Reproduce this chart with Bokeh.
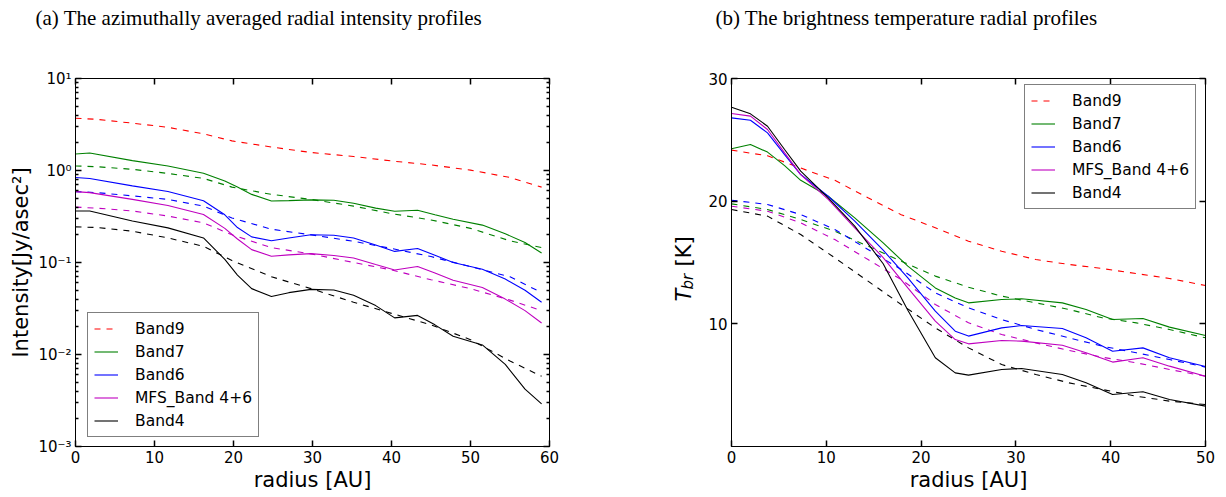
from math import pi
from bokeh.plotting import figure
from bokeh.models import FixedTicker, LinearAxis, LogAxis, Legend, LegendItem, Label, Range1d, Title
from bokeh.layouts import row
from bokeh.embed import file_html
from bokeh.resources import INLINE

# ---------------- panel (a) data : intensity [Jy/asec^2] vs radius [AU]
R_A_SOLID = [0, 1.8, 7.2, 11.7, 16.2, 18.9, 20.5, 22.3, 24.8, 27, 29.8, 32.7, 35.2, 38, 40.4, 43.3, 45.5, 47.8, 51.5, 54.4, 56.9, 59]
A_BAND7 = [1.51, 1.55, 1.28, 1.12, 0.935, 0.77, 0.66, 0.55, 0.466, 0.47, 0.48, 0.475, 0.44, 0.39, 0.36, 0.37, 0.33, 0.295, 0.255, 0.205, 0.165, 0.127]
A_BAND6 = [0.84, 0.82, 0.68, 0.59, 0.47, 0.33, 0.24, 0.19, 0.172, 0.185, 0.2, 0.198, 0.185, 0.155, 0.132, 0.142, 0.12, 0.1, 0.0845, 0.066, 0.05, 0.037]
A_MFS = [0.59, 0.575, 0.485, 0.417, 0.333, 0.235, 0.18, 0.138, 0.117, 0.121, 0.125, 0.119, 0.112, 0.095, 0.083, 0.0906, 0.077, 0.064, 0.0535, 0.04, 0.03, 0.022]
A_BAND4 = [0.363, 0.363, 0.282, 0.238, 0.185, 0.108, 0.073, 0.052, 0.0427, 0.047, 0.051, 0.0503, 0.044, 0.034, 0.025, 0.0266, 0.021, 0.0158, 0.0127, 0.0078, 0.0042, 0.0029]

R_A_DASH = [0, 2.7, 7.2, 11.7, 16.2, 19.8, 24.8, 29.8, 35.2, 40, 45, 50, 55, 59]
A_BAND9_D = [3.7, 3.6, 3.27, 2.95, 2.5, 2.1, 1.8, 1.57, 1.42, 1.27, 1.15, 1.01, 0.84, 0.66]
A_BAND7_D = [1.12, 1.1, 1.03, 0.93, 0.82, 0.66, 0.55, 0.485, 0.41, 0.34, 0.29, 0.235, 0.172, 0.145]
A_BAND6_D = [0.59, 0.575, 0.53, 0.485, 0.41, 0.305, 0.23, 0.2, 0.17, 0.142, 0.116, 0.09, 0.07, 0.047]
A_MFS_D = [0.4, 0.39, 0.363, 0.32, 0.27, 0.2, 0.145, 0.124, 0.1, 0.083, 0.065, 0.052, 0.039, 0.03]
A_BAND4_D = [0.244, 0.24, 0.219, 0.185, 0.15, 0.105, 0.07, 0.052, 0.037, 0.028, 0.021, 0.0145, 0.0085, 0.0058]

# ---------------- panel (b) data : brightness temperature [K] vs radius [AU]
R_B_SOLID = [0, 2, 3.8, 5.6, 7.3, 10.2, 13, 16, 18.6, 21.5, 23.6, 25, 28.5, 30.6, 34.9, 37.4, 40.2, 43.4, 46.2, 50]
B_BAND7 = [24.27, 24.62, 24.0, 22.9, 21.7, 20.4, 18.64, 16.6, 14.7, 12.93, 12.1, 11.71, 11.98, 12.04, 11.71, 11.17, 10.35, 10.43, 9.73, 9.05]
B_BAND6 = [26.79, 26.6, 25.57, 23.8, 22.17, 20.4, 18.37, 16.0, 13.75, 11.03, 9.4, 9.0, 9.67, 9.86, 9.62, 8.86, 7.77, 8.04, 7.23, 6.52]
B_MFS = [27.15, 26.93, 25.84, 23.94, 22.17, 20.14, 17.83, 15.4, 12.93, 10.22, 8.72, 8.37, 8.64, 8.59, 8.26, 7.64, 6.88, 7.23, 6.55, 5.73]
B_BAND4 = [27.66, 27.12, 26.11, 24.21, 22.45, 20.27, 17.96, 14.9, 11.1, 7.23, 6.0, 5.82, 6.28, 6.36, 5.87, 5.19, 4.24, 4.46, 3.83, 3.29]

R_B_DASH = [0, 3.8, 7.3, 10.9, 14.4, 17.9, 21.5, 25, 28.5, 32.1, 35.6, 39.1, 42.7, 46.2, 50]
B_BAND9_D = [24.16, 23.7, 22.7, 21.7, 20.27, 18.9, 17.83, 16.74, 15.92, 15.24, 14.84, 14.51, 14.1, 13.7, 13.12]
B_BAND7_D = [19.78, 19.32, 18.5, 17.55, 16.33, 15.11, 13.89, 12.99, 12.26, 11.71, 11.17, 10.49, 10.08, 9.54, 8.86]
B_BAND6_D = [20.08, 19.73, 18.91, 17.69, 16.06, 14.43, 12.53, 11.3, 10.35, 9.54, 8.86, 8.18, 7.64, 7.09, 6.47]
B_MFS_D = [19.59, 19.18, 18.23, 16.87, 15.24, 13.61, 11.58, 10.08, 9.13, 8.45, 7.83, 7.28, 6.82, 6.28, 5.73]
B_BAND4_D = [19.32, 18.78, 17.28, 15.38, 13.48, 11.58, 9.67, 8.04, 6.68, 5.87, 5.19, 4.65, 4.1, 3.7, 3.42]

LEGEND_LABELS = ["Band9", "Band7", "Band6", "MFS_Band 4+6", "Band4"]

X_TICKS_A = [0, 10, 20, 30, 40, 50, 60]
Y_TICKS_A = [1e-3, 1e-2, 1e-1, 1, 10]
Y_TICK_LABELS_A = ["10\u207b\u00b3", "10\u207b\u00b2", "10\u207b\u00b9", "10\u2070", "10\u00b9"]
X_TICKS_B = [0, 10, 20, 30, 40, 50]
Y_TICKS_B = [10, 20, 30]

TITLE_A = "(a) The azimuthally averaged radial intensity profiles"
TITLE_B = "(b) The brightness temperature radial profiles"

RED, GREEN, BLUE, MAG, BLACK = "#ff0000", "#008000", "#0000ff", "#bf00bf", "#000000"
SANS = "DejaVu Sans"
HEIGHT = 495


def make_fig(width, xr, yr, ytype, bl, br):
    p = figure(width=width, height=HEIGHT, x_range=xr, y_range=yr, y_axis_type=ytype,
               output_backend="svg", toolbar_location=None,
               min_border_left=bl, min_border_right=br, min_border_top=78, min_border_bottom=49)
    p.grid.visible = False
    p.outline_line_color = "black"
    p.outline_line_width = 1
    p.background_fill_color = "white"
    p.border_fill_color = "white"
    return p


def style_axis(ax, ticker, overrides):
    ax.ticker = ticker
    ax.major_label_overrides = overrides
    ax.major_tick_in = 6
    ax.major_tick_out = 0
    ax.minor_tick_in = 3
    ax.minor_tick_out = 0
    ax.major_tick_line_width = 1.5
    ax.minor_tick_line_width = 1.5
    ax.major_tick_line_color = "black"
    ax.minor_tick_line_color = "black"
    ax.axis_line_color = "black"
    ax.major_label_text_font = SANS
    ax.major_label_text_font_size = "15px"
    ax.major_label_text_color = "black"
    ax.major_label_standoff = 4
    ax.axis_label_text_font = SANS
    ax.axis_label_text_font_size = "21px"
    ax.axis_label_text_font_style = "normal"
    ax.axis_label_text_color = "black"
    ax.axis_label_standoff = 2


def set_title(p, text, offset):
    # spacer first (closest to the frame), then the visible title further out
    p.title.text = ""
    p.add_layout(Title(text=" ", text_font_size="1px", standoff=46), "above")
    p.add_layout(Title(text=text, align="left", offset=offset, standoff=0,
                       text_font="Liberation Serif", text_font_size="21px",
                       text_font_style="normal", text_color="black"), "above")


def add_legend(p, renderers, loc, pad):
    items = [LegendItem(label=l, renderers=[r]) for l, r in zip(LEGEND_LABELS, renderers)]
    lg = Legend(items=items, location=loc)
    lg.label_text_font = SANS
    lg.label_text_font_size = "15.5px"
    lg.label_text_color = "black"
    lg.glyph_width = 24
    lg.glyph_height = 19
    lg.label_height = 19
    lg.label_standoff = 17
    lg.spacing = 4
    lg.padding = pad
    lg.margin = 0
    lg.border_line_color = "black"
    lg.border_line_width = 1
    lg.background_fill_color = "white"
    lg.background_fill_alpha = 1
    p.add_layout(lg, "center")


def mirror_axis(ax, ticker, ticks):
    style_axis(ax, ticker, {t: "" for t in ticks})


# ================= panel (a)
pA = make_fig(610, (0, 60), (1e-3, 10), "log", 75, 61)
minor_a = [m * t for t in Y_TICKS_A[:-1] for m in range(2, 10)]
style_axis(pA.xaxis[0], FixedTicker(ticks=X_TICKS_A), {})
style_axis(pA.yaxis[0], FixedTicker(ticks=Y_TICKS_A, minor_ticks=minor_a), dict(zip(Y_TICKS_A, Y_TICK_LABELS_A)))
pA.xaxis[0].axis_label = "radius [AU]"
pA.yaxis[0].axis_label = "Intensity[Jy/asec\u00b2]"
topA = LinearAxis()
mirror_axis(topA, FixedTicker(ticks=X_TICKS_A), X_TICKS_A)
pA.add_layout(topA, "above")
rightA = LogAxis()
mirror_axis(rightA, FixedTicker(ticks=Y_TICKS_A, minor_ticks=minor_a), Y_TICKS_A)
pA.add_layout(rightA, "right")
set_title(pA, TITLE_A, -40)

dA = [pA.line(R_A_DASH, y, line_color=c, line_width=1.1, line_dash="6 6")
      for y, c in zip([A_BAND9_D, A_BAND7_D, A_BAND6_D, A_MFS_D, A_BAND4_D], [RED, GREEN, BLUE, MAG, BLACK])]
sA = [pA.line(R_A_SOLID, y, line_color=c, line_width=1.1)
      for y, c in zip([A_BAND7, A_BAND6, A_MFS, A_BAND4], [GREEN, BLUE, MAG, BLACK])]
add_legend(pA, [dA[0]] + sA, (12, 9), 6)

# ================= strip holding the y-axis label of panel (b): T_br [K]
# (its frame is aligned by the row with the frames of the two panels)
pL = figure(width=90, height=HEIGHT, x_range=Range1d(0, 1), y_range=Range1d(0, 1),
            x_axis_location=None, y_axis_location=None,
            output_backend="svg", toolbar_location=None, min_border=0)
pL.grid.visible = False
pL.outline_line_color = None
pL.background_fill_color = "white"
pL.border_fill_color = "white"
pL.add_layout(Label(x=73, y=145, x_units="screen", y_units="screen", text="T", angle=pi / 2,
                    text_font=SANS, text_font_style="italic", text_font_size="21px",
                    text_align="left", text_baseline="middle", text_color="black"))
pL.add_layout(Label(x=77, y=157, x_units="screen", y_units="screen", text="br", angle=pi / 2,
                    text_font=SANS, text_font_style="italic", text_font_size="15px",
                    text_align="left", text_baseline="middle", text_color="black"))
pL.add_layout(Label(x=73, y=180, x_units="screen", y_units="screen", text="[K]", angle=pi / 2,
                    text_font=SANS, text_font_size="21px",
                    text_align="left", text_baseline="middle", text_color="black"))

# ================= panel (b)
pB = make_fig(524, (0, 50), (0, 30), "linear", 31, 19)
style_axis(pB.xaxis[0], FixedTicker(ticks=X_TICKS_B), {})
style_axis(pB.yaxis[0], FixedTicker(ticks=Y_TICKS_B), {})
pB.xaxis[0].axis_label = "radius [AU]"
topB = LinearAxis()
mirror_axis(topB, FixedTicker(ticks=X_TICKS_B), X_TICKS_B)
pB.add_layout(topB, "above")
rightB = LinearAxis()
mirror_axis(rightB, FixedTicker(ticks=Y_TICKS_B), Y_TICKS_B)
pB.add_layout(rightB, "right")
set_title(pB, TITLE_B, -16)

dB = [pB.line(R_B_DASH, y, line_color=c, line_width=1.1, line_dash="6 6")
      for y, c in zip([B_BAND9_D, B_BAND7_D, B_BAND6_D, B_MFS_D, B_BAND4_D], [RED, GREEN, BLUE, MAG, BLACK])]
sB = [pB.line(R_B_SOLID, y, line_color=c, line_width=1.1)
      for y, c in zip([B_BAND7, B_BAND6, B_MFS, B_BAND4], [GREEN, BLUE, MAG, BLACK])]
add_legend(pB, [dB[0]] + sB, (293, 237), 6)

layout = row(pA, pL, pB)
open("out.html", "w").write(file_html(layout, INLINE))
